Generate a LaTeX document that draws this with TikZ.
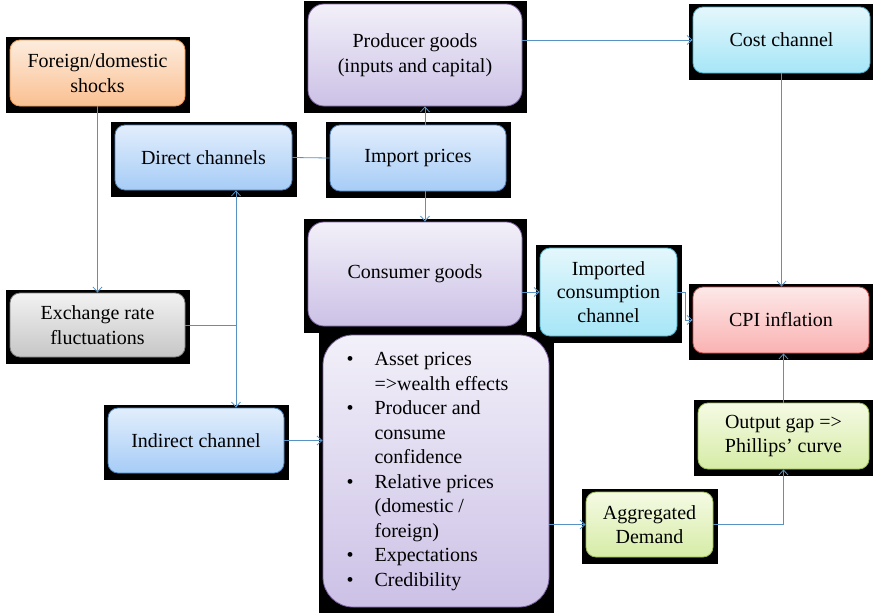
\documentclass[tikz,border=0pt]{standalone}
\usepackage{fontspec}
\setmainfont{Liberation Serif}
\usetikzlibrary{arrows.meta,backgrounds}
\definecolor{linkblue}{RGB}{86,146,196}
\definecolor{orangetop}{RGB}{253,236,222}
\definecolor{orangebot}{RGB}{250,192,145}
\definecolor{orangeline}{RGB}{240,150,80}
\definecolor{bluetop}{RGB}{226,238,252}
\definecolor{bluebot}{RGB}{166,204,246}
\definecolor{blueline}{RGB}{79,129,189}
\definecolor{purpletop}{RGB}{242,240,249}
\definecolor{purplebot}{RGB}{204,193,230}
\definecolor{purpleline}{RGB}{128,100,162}
\definecolor{cyantop}{RGB}{228,247,252}
\definecolor{cyanbot}{RGB}{166,230,247}
\definecolor{cyanline}{RGB}{75,172,198}
\definecolor{redtop}{RGB}{253,232,232}
\definecolor{redbot}{RGB}{250,178,178}
\definecolor{redline}{RGB}{192,80,77}
\definecolor{graytop}{RGB}{242,242,242}
\definecolor{graybot}{RGB}{198,198,198}
\definecolor{grayline}{RGB}{127,127,127}
\definecolor{greentop}{RGB}{245,250,228}
\definecolor{greenbot}{RGB}{214,236,166}
\definecolor{greenline}{RGB}{155,187,89}

\begin{document}
\begin{tikzpicture}[x=1pt,y=-1pt,>={Straight Barb[length=5pt,width=9pt]},
    box/.style={rounded corners=10pt,draw,line width=0.8pt,align=center,inner sep=0pt,
        font=\fontsize{20}{24.5}\selectfont},
    orangebox/.style={box,draw=orangeline,top color=orangetop,bottom color=orangebot},
    bluebox/.style={box,draw=blueline,top color=bluetop,bottom color=bluebot},
    purplebox/.style={box,draw=purpleline,top color=purpletop,bottom color=purplebot},
    cyanbox/.style={box,draw=cyanline,top color=cyantop,bottom color=cyanbot},
    redbox/.style={box,draw=redline,top color=redtop,bottom color=redbot},
    graybox/.style={box,draw=grayline,top color=graytop,bottom color=graybot},
    greenbox/.style={box,draw=greenline,top color=greentop,bottom color=greenbot},
    link/.style={draw=linkblue,line width=0.8pt}]
    \useasboundingbox (0,0) rectangle (873,613);

    % Boxes
    \node[orangebox,minimum width=175,minimum height=66] (shocks) at (97.5,73) {Foreign/domestic\\shocks};
    \node[bluebox,minimum width=177,minimum height=65] (direct) at (203.5,157.5) {Direct channels};
    \node[bluebox,minimum width=176,minimum height=66] (import) at (418,158) {Import prices};
    \node[purplebox,rounded corners=16pt,minimum width=214,minimum height=102] (producer) at (415,55) {Producer goods\\(inputs and capital)};
    \node[cyanbox,minimum width=177,minimum height=66] (cost) at (781.5,40) {Cost channel};
    \node[purplebox,rounded corners=16pt,minimum width=214,minimum height=104] (consumer) at (415,274) {Consumer goods};
    \node[cyanbox,font=\fontsize{20}{23.5}\selectfont,minimum width=137,minimum height=88] (imported) at (608.5,292) {Imported\\consumption\\channel};
    \node[redbox,minimum width=176,minimum height=66] (cpi) at (781,320) {CPI inflation};
    \node[graybox,minimum width=175,minimum height=64] (exchange) at (97.5,325) {Exchange rate\\fluctuations};
    \node[bluebox,minimum width=176,minimum height=65] (indirect) at (196,440.5) {Indirect channel};
    \node[purplebox,rounded corners=30pt,minimum width=226,minimum height=272] (assets) at (436,471) {%
        \begin{tabular}{@{}c@{\hspace{21pt}}l@{\hspace{17pt}}}
        \textbullet & Asset prices\\
                    & =>wealth effects\\
        \textbullet & Producer and\\
                    & consume\\
                    & confidence\\
        \textbullet & Relative prices\\
                    & (domestic /\\
                    & foreign)\\
        \textbullet & Expectations\\
        \textbullet & Credibility
        \end{tabular}};
    \node[greenbox,minimum width=171,minimum height=66] (outgap) at (783.5,436) {Output gap =>\\Phillips’ curve};
    \node[greenbox,minimum width=127,minimum height=65] (aggdemand) at (649.5,524.5) {Aggregated\\Demand};

    % Black backing behind the boxes
    \begin{pgfonlayer}{background}
        \foreach \n in {shocks,direct,import,producer,cost,consumer,imported,cpi,exchange,indirect,assets,outgap,aggdemand}
            \fill[black] ([shift={(-4pt,3pt)}]\n.north west) rectangle ([shift={(5pt,-7pt)}]\n.south east);
    \end{pgfonlayer}

    % Connectors
    \coordinate (split) at (236,325);
    \draw[link,->] (shocks.south) -- (exchange.north);
    \draw[link] (exchange.east) -- (split);
    \draw[link,<->] (split |- direct.south) -- (split |- indirect.north);
    \draw[link] (direct.east) -- (import.west);
    \draw[link,->] ([xshift=7pt]import.north) -- ([xshift=7pt]import.north |- producer.south);
    \draw[link,->] ([xshift=7pt]import.south) -- ([xshift=7pt]import.south |- consumer.north);
    \draw[link,->] (producer.east |- cost.west) -- (cost.west);
    \draw[link,->] (cost.south) -- (cost.south |- cpi.north);
    \draw[link,->] (consumer.east |- imported.west) -- (imported.west);
    \draw[link,->] (imported.east) -- ++(8,0) |- (cpi.west);
    \draw[link,->] (indirect.east) -- (indirect.east -| assets.west);
    \draw[link,->] (assets.east |- aggdemand.west) -- (aggdemand.west);
    \draw[link,->] (aggdemand.east) -| (outgap.south);
    \draw[link,->] (outgap.north) -- (outgap.north |- cpi.south);
\end{tikzpicture}
\end{document}
